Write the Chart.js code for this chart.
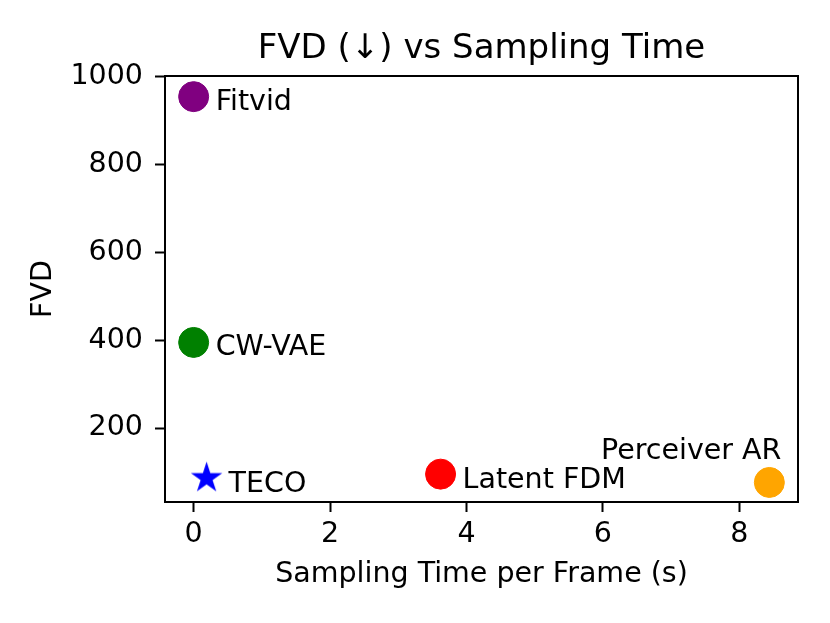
<!DOCTYPE html>
<html>
<head>
<meta charset="utf-8">
<script src="https://cdn.jsdelivr.net/npm/chart.js@4"></script>
<style>
body{margin:0;background:#fff;}
canvas{display:block;}
</style>
</head>
<body>
<canvas id="fvdChart" width="830" height="623"></canvas>
<script>
// data
const methods = ['Fitvid', 'CW-VAE', 'TECO', 'Latent FDM', 'Perceiver AR'];
const samplingTime = [0, 0, 0.19, 3.62, 8.44];
const fvd = [955, 395, 86, 95, 76];
const xTicks = [0, 2, 4, 6, 8];
const yTicks = [200, 400, 600, 800, 1000];

const colors = ['#800080', '#008000', '#0000ff', '#ff0000', '#ffa500'];
const font = 'DejaVu Sans';
const fs = 28.5;

// filled 5 point star like matplotlib '*'
function makeStar(r, color){
  const c = document.createElement('canvas');
  c.width = r*2+2; c.height = r*2+2;
  const g = c.getContext('2d');
  const cx = r+1, cy = r+1, ri = r*0.381966;
  g.beginPath();
  for(let i=0;i<10;i++){
    const a = -Math.PI/2 + i*Math.PI/5;
    const rr = i%2===0 ? r : ri;
    g.lineTo(cx+rr*Math.cos(a), cy+rr*Math.sin(a));
  }
  g.closePath();
  g.fillStyle = color;
  g.fill();
  return c;
}

const datasets = methods.map((m,i)=>({
  label:m,
  data:[{x:samplingTime[i], y:fvd[i]}],
  backgroundColor:colors[i],
  borderColor:colors[i],
  borderWidth:1,
  pointRadius:15,
  pointStyle: m==='TECO' ? makeStar(16.5, colors[i]) : 'circle'
}));

// where each label sits relative to its point
const labelOffsets = {
  'Fitvid':{dx:22, dy:13, align:'left'},
  'CW-VAE':{dx:22, dy:13, align:'left'},
  'TECO':{dx:22, dy:14, align:'left'},
  'Latent FDM':{dx:22, dy:14, align:'left'},
  'Perceiver AR':{dx:12, dy:-23, align:'right'}
};

const extras = {
  id:'extras',
  beforeDatasetsDraw(chart){
    const {ctx, chartArea:a} = chart;
    ctx.save();
    ctx.strokeStyle = '#000';
    ctx.lineWidth = 2;
    ctx.strokeRect(a.left, a.top, a.right-a.left, a.bottom-a.top);
    ctx.restore();
  },
  afterDraw(chart){
    const {ctx, chartArea:a, scales} = chart;
    ctx.save();
    ctx.fillStyle = '#000';
    ctx.textBaseline = 'alphabetic';
    ctx.font = fs + 'px "' + font + '"';
    methods.forEach((m,i)=>{
      const o = labelOffsets[m];
      ctx.textAlign = o.align;
      ctx.fillText(m, scales.x.getPixelForValue(samplingTime[i]) + o.dx, scales.y.getPixelForValue(fvd[i]) + o.dy);
    });
    ctx.font = '34px "' + font + '"';
    ctx.textAlign = 'center';
    ctx.fillText('FVD (\u2193) vs Sampling Time', (a.left+a.right)/2, 58);
    ctx.restore();
  }
};

new Chart(document.getElementById('fvdChart'),{
  type:'scatter',
  data:{datasets:datasets},
  options:{
    responsive:false,
    devicePixelRatio:1,
    animation:false,
    layout:{padding:{top:76, right:32, left:0, bottom:0}},
    plugins:{
      legend:{display:false},
      tooltip:{enabled:false},
      title:{display:false}
    },
    scales:{
      x:{
        type:'linear',
        min:-0.42,
        max:8.86,
        afterBuildTicks:s=>{ s.ticks = xTicks.map(v=>({value:v})); },
        afterFit:s=>{ s.height = 121; },
        border:{display:false},
        grid:{drawOnChartArea:false, tickLength:10, tickWidth:2, tickColor:'#000'},
        ticks:{color:'#000', padding:5, callback:v=>String(v), font:{family:font, size:fs, lineHeight:1.2}},
        title:{display:true, text:'Sampling Time per Frame (s)', color:'#000', padding:{top:0, bottom:31}, font:{family:font, size:fs, lineHeight:1.2}}
      },
      y:{
        type:'linear',
        min:31.5,
        max:1002,
        afterBuildTicks:s=>{ s.ticks = yTicks.map(v=>({value:v})); },
        afterFit:s=>{ s.width = 165; },
        border:{display:false},
        grid:{drawOnChartArea:false, tickLength:10, tickWidth:2, tickColor:'#000'},
        ticks:{color:'#000', padding:12, callback:v=>String(v), font:{family:font, size:fs, lineHeight:1.2}},
        title:{display:true, text:'FVD', color:'#000', padding:{top:26, bottom:0}, font:{family:font, size:fs, lineHeight:1.2}}
      }
    }
  },
  plugins:[extras]
});
</script>
</body>
</html>
